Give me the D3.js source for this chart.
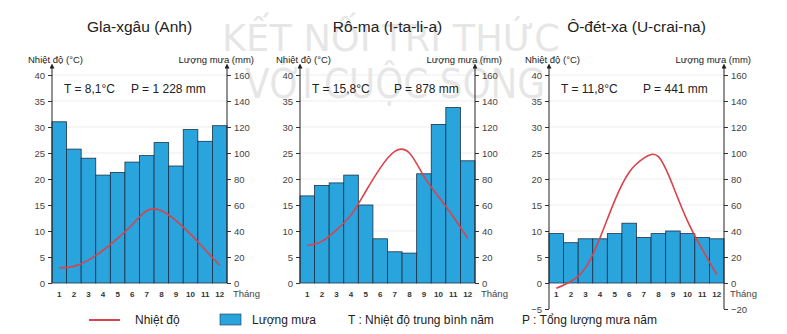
<!DOCTYPE html>
<html lang="vi">
<head>
  <meta charset="UTF-8">
  <title>Biểu đồ nhiệt độ và lượng mưa</title>
  <script src="https://d3js.org/d3.v7.min.js"></script>
  <style>
    body { margin: 0; background: #fff; }
    svg { font-family: "Liberation Sans", Arial, sans-serif; }
    .tick text { fill: #444; font-size: 9.5px; }
    .tick line { stroke: #333; }
  </style>
</head>
<body>
  <svg width="787" height="334"></svg>

  <script>
    // Data
    const months = ["1", "2", "3", "4", "5", "6", "7", "8", "9", "10", "11", "12"];
    const cities = ["Gla-xgâu (Anh)", "Rô-ma (I-ta-li-a)", "Ô-đét-xa (U-crai-na)"];
    const tempLabels = ["T = 8,1°C", "T = 15,8°C", "T = 11,8°C"];
    const rainLabels = ["P = 1 228 mm", "P = 878 mm", "P = 441 mm"];

    const tempGlasgow = [2.9, 3.2, 4.4, 6.3, 8.6, 11.2, 13.9, 13.9, 12.0, 9.4, 6.4, 3.4];
    const rainGlasgow = [124, 103, 96, 83, 85, 93, 98, 108, 90, 118, 109, 121];
    const tempRome = [7.2, 8.0, 10.2, 13.1, 17.6, 22.1, 25.3, 25.0, 20.5, 16.6, 12.8, 8.6];
    const rainRome = [67, 75, 77, 83, 60, 34, 24, 23, 84, 122, 135, 94];
    const tempOdessa = [-1.0, 0.3, 2.9, 8.7, 15.8, 21.3, 24.0, 24.3, 18.7, 11.9, 6.5, 1.6];
    const rainOdessa = [38, 31, 34, 34, 38, 46, 35, 38, 40, 38, 35, 34];

    const tempTicks = [0, 5, 10, 15, 20, 25, 30, 35, 40];
    const rainTicks = [0, 20, 40, 60, 80, 100, 120, 140, 160];
    const tempTicksNeg = [-5, 0, 5, 10, 15, 20, 25, 30, 35, 40];
    const rainTicksNeg = [-20, 0, 20, 40, 60, 80, 100, 120, 140, 160];

    const panels = [
      { city: cities[0], temp: tempGlasgow, rain: rainGlasgow, t: tempLabels[0], p: rainLabels[0], left: 52, min: 0 },
      { city: cities[1], temp: tempRome, rain: rainRome, t: tempLabels[1], p: rainLabels[1], left: 300, min: 0 },
      { city: cities[2], temp: tempOdessa, rain: rainOdessa, t: tempLabels[2], p: rainLabels[2], left: 549, min: -5 }
    ];

    const svg = d3.select("svg");
    const barColor = "#2aa4dd", lineColor = "#d9434c";
    const plotW = 175, yTop = 75, yZero = 283;
    const perDeg = (yZero - yTop) / 40;

    // watermark (faint, behind everything)
    const wm = svg.append("g").attr("fill", "#9a9a9a").attr("opacity", 0.24)
      .style("font-family", "'DejaVu Sans Condensed', 'Liberation Sans Narrow', 'DejaVu Sans', sans-serif");
    wm.append("text").attr("x", 222).attr("y", 51).attr("font-size", 38)
      .attr("textLength", 338).attr("lengthAdjust", "spacingAndGlyphs").text("KẾT NỐI TRI THỨC");
    wm.append("text").attr("x", 245).attr("y", 98).attr("font-size", 40)
      .attr("textLength", 300).attr("lengthAdjust", "spacingAndGlyphs").text("VỚI CUỘC SỐNG");

    svg.append("defs").append("marker")
      .attr("id", "arrow").attr("viewBox", "0 0 6 6")
      .attr("refX", 3).attr("refY", 3).attr("markerWidth", 5).attr("markerHeight", 5)
      .attr("orient", "auto")
      .append("path").attr("d", "M0,0L6,3L0,6z").attr("fill", "#222");

    panels.forEach(pn => {
      const x = d3.scaleBand().domain(months).range([pn.left, pn.left + plotW]).padding(0);
      const yBottom = yZero - pn.min * perDeg;
      const yT = d3.scaleLinear().domain([pn.min, 40]).range([yBottom, yTop]);
      const yR = d3.scaleLinear().domain([pn.min * 4, 160]).range([yBottom, yTop]);
      const right = pn.left + plotW;
      const g = svg.append("g");

      // title
      g.append("text").attr("x", pn.left + plotW / 2).attr("y", 32)
        .attr("text-anchor", "middle").attr("font-size", 15.5).attr("fill", "#222")
        .text(pn.city);

      // gridlines
      g.selectAll(".grid").data(tempTicks.filter(d => d > 0)).enter().append("line")
        .attr("x1", pn.left).attr("x2", right)
        .attr("y1", d => yT(d)).attr("y2", d => yT(d))
        .attr("stroke", "#e8e8e8").attr("stroke-width", 0.8);

      // bars
      g.selectAll(".bar").data(pn.rain).enter().append("rect")
        .attr("x", (d, i) => x(months[i]))
        .attr("y", d => yR(d))
        .attr("width", x.bandwidth())
        .attr("height", d => yR(0) - yR(d))
        .attr("fill", barColor)
        .attr("stroke", "#1c3147").attr("stroke-width", 0.8);

      // temperature line
      const line = d3.line()
        .x((d, i) => x(months[i]) + x.bandwidth() / 2)
        .y(d => yT(d))
        .curve(d3.curveNatural);
      g.append("path").datum(pn.temp).attr("d", line)
        .attr("fill", "none").attr("stroke", lineColor).attr("stroke-width", 1.6);

      // left axis
      const axL = g.append("g").attr("transform", "translate(" + pn.left + ",0)")
        .call(d3.axisLeft(yT).tickValues(pn.min < 0 ? tempTicksNeg : tempTicks).tickSize(4).tickSizeOuter(0).tickPadding(3));
      axL.select(".domain").remove();
      g.append("line").attr("x1", pn.left).attr("x2", pn.left)
        .attr("y1", yBottom).attr("y2", 66)
        .attr("stroke", "#222").attr("stroke-width", 1).attr("marker-end", "url(#arrow)");

      // right axis
      const axR = g.append("g").attr("transform", "translate(" + right + ",0)")
        .call(d3.axisRight(yR).tickValues(pn.min < 0 ? rainTicksNeg : rainTicks).tickSize(4).tickSizeOuter(0).tickPadding(3));
      axR.select(".domain").remove();
      g.append("line").attr("x1", right).attr("x2", right)
        .attr("y1", yBottom).attr("y2", 66)
        .attr("stroke", "#222").attr("stroke-width", 1).attr("marker-end", "url(#arrow)");

      // month labels
      g.selectAll(".month").data(months).enter().append("text")
        .attr("x", d => x(d) + x.bandwidth() / 2).attr("y", 297)
        .attr("text-anchor", "middle").attr("font-size", 8).attr("font-weight", "bold")
        .attr("fill", "#333").text(d => d);
      g.append("text").attr("x", right + 6).attr("y", 297)
        .attr("font-size", 9.5).attr("fill", "#444").text("Tháng");

      // axis titles
      g.append("text").attr("x", pn.left - 24).attr("y", 63)
        .attr("font-size", 9.5).attr("fill", "#222").text("Nhiệt độ (°C)");
      g.append("text").attr("x", right + 27).attr("y", 63).attr("text-anchor", "end")
        .attr("font-size", 9.5).attr("fill", "#222").text("Lượng mưa (mm)");

      // annual values
      g.append("text").attr("x", pn.left + 12).attr("y", 93)
        .attr("font-size", 12).attr("fill", "#222").text(pn.t);
      g.append("text").attr("x", pn.left + (pn.left === 52 ? 79 : 94)).attr("y", 93)
        .attr("font-size", 12).attr("fill", "#222").text(pn.p);
    });

    // legend
    const lg = svg.append("g").attr("font-size", 12).attr("fill", "#222");
    lg.append("line").attr("x1", 89).attr("x2", 120).attr("y1", 320).attr("y2", 320)
      .attr("stroke", lineColor).attr("stroke-width", 2);
    lg.append("text").attr("x", 135).attr("y", 324).text("Nhiệt độ");
    lg.append("rect").attr("x", 220).attr("y", 314).attr("width", 21).attr("height", 11)
      .attr("fill", barColor).attr("stroke", "#1c3147").attr("stroke-width", 0.6);
    lg.append("text").attr("x", 252).attr("y", 324).text("Lượng mưa");
    lg.append("text").attr("x", 348).attr("y", 324).text("T : Nhiệt độ trung bình năm");
    lg.append("text").attr("x", 522).attr("y", 324).text("P : Tổng lượng mưa năm");
  </script>
</body>
</html>
